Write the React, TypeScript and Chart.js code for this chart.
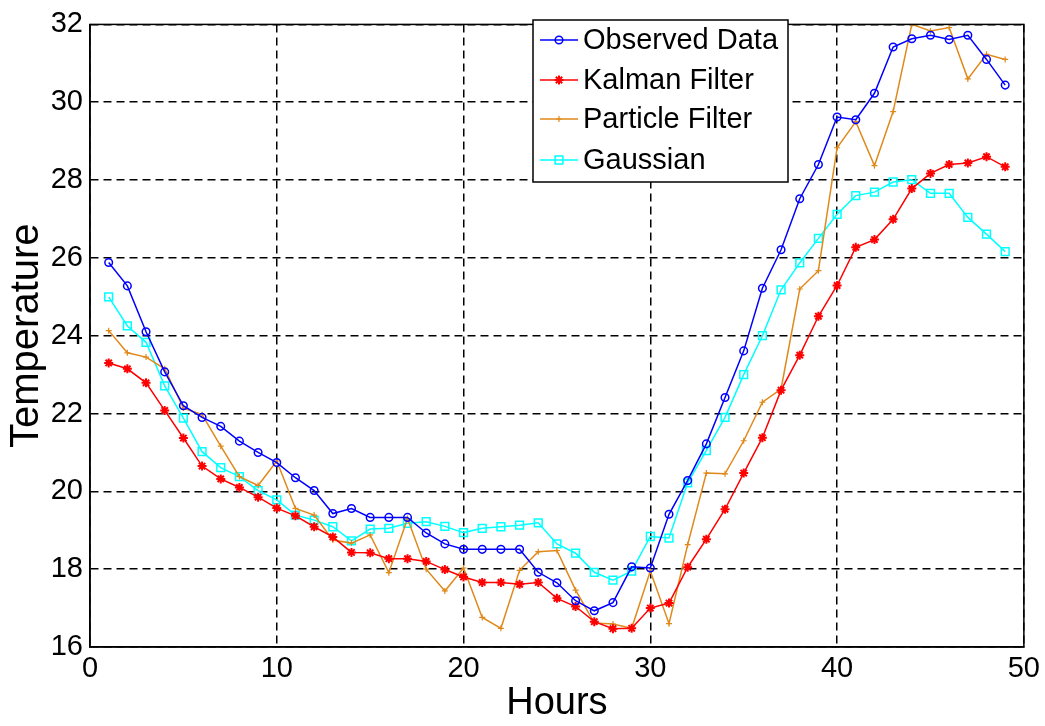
import React, { useEffect, useRef } from "react";
import { Chart, registerables } from "chart.js";
import { drawPoint } from "chart.js/helpers";

Chart.register(...registerables);

const hours = [1, 2, 3, 4, 5, 6, 7, 8, 9, 10, 11, 12, 13, 14, 15, 16, 17, 18, 19, 20, 21, 22, 23, 24, 25, 26, 27, 28, 29, 30, 31, 32, 33, 34, 35, 36, 37, 38, 39, 40, 41, 42, 43, 44, 45, 46, 47, 48, 49];

const observed = [25.88, 25.28, 24.1, 23.07, 22.2, 21.9, 21.67, 21.29, 21.0, 20.74, 20.35, 20.02, 19.43, 19.56, 19.33, 19.33, 19.33, 18.93, 18.65, 18.51, 18.51, 18.51, 18.51, 17.92, 17.65, 17.19, 16.93, 17.14, 18.06, 18.03, 19.41, 20.28, 21.22, 22.41, 23.61, 25.22, 26.21, 27.52, 28.4, 29.62, 29.55, 30.23, 31.42, 31.63, 31.72, 31.61, 31.72, 31.1, 30.44];

const kalman = [23.3, 23.15, 22.79, 22.08, 21.37, 20.65, 20.32, 20.1, 19.85, 19.57, 19.37, 19.09, 18.83, 18.43, 18.42, 18.27, 18.27, 18.2, 17.99, 17.8, 17.66, 17.66, 17.61, 17.66, 17.25, 17.04, 16.65, 16.47, 16.48, 17.0, 17.13, 18.05, 18.77, 19.54, 20.47, 21.38, 22.6, 23.5, 24.5, 25.29, 26.27, 26.47, 26.99, 27.78, 28.17, 28.4, 28.44, 28.6, 28.34];

const particle = [24.13, 23.56, 23.45, 23.15, 22.14, 21.97, 21.16, 20.38, 20.15, 20.78, 19.56, 19.39, 18.75, 18.67, 18.88, 17.91, 19.3, 18.0, 17.44, 18.03, 16.76, 16.48, 17.97, 18.45, 18.48, 17.46, 16.62, 16.59, 16.48, 17.95, 16.6, 18.63, 20.47, 20.45, 21.3, 22.29, 22.63, 25.2, 25.67, 28.83, 29.5, 28.37, 29.76, 32.0, 31.83, 31.92, 30.6, 31.23, 31.1];

const gaussian = [25.0, 24.25, 23.83, 22.71, 21.88, 21.02, 20.61, 20.38, 20.02, 19.78, 19.39, 19.26, 19.09, 18.73, 19.03, 19.05, 19.18, 19.22, 19.1, 18.94, 19.05, 19.09, 19.13, 19.19, 18.65, 18.41, 17.92, 17.72, 17.95, 18.84, 18.8, 20.22, 21.05, 21.9, 23.0, 24.0, 25.18, 25.87, 26.5, 27.12, 27.6, 27.69, 27.95, 28.01, 27.66, 27.66, 27.04, 26.61, 26.16];

const seriesLabels = ["Observed Data", "Kalman Filter", "Particle Filter", "Gaussian"];
const xTitle = "Hours";
const yTitle = "Temperature";

const FONT = "'Liberation Sans', Arial, sans-serif";

const framePlugin = {
  id: "frame",
  afterDatasetsDraw(chart: any) {
    const { ctx, chartArea } = chart;
    ctx.save();
    ctx.strokeStyle = "#000";
    ctx.lineWidth = 1.5;
    ctx.setLineDash([]);
    ctx.strokeRect(chartArea.left, chartArea.top, chartArea.right - chartArea.left, chartArea.bottom - chartArea.top);
    ctx.restore();
  },
};

const legendPlugin = {
  id: "boxLegend",
  afterDraw(chart: any) {
    const { ctx } = chart;
    const left = 533;
    const top = 20;
    const w = 255;
    const h = 162;
    ctx.save();
    ctx.fillStyle = "#fff";
    ctx.fillRect(left, top, w, h);
    ctx.strokeStyle = "#000";
    ctx.lineWidth = 1.5;
    ctx.setLineDash([]);
    ctx.strokeRect(left, top, w, h);
    const rows = [40, 80, 119, 160];
    chart.data.datasets.forEach((ds: any, i: number) => {
      const y = rows[i];
      ctx.strokeStyle = ds.borderColor;
      ctx.lineWidth = ds.borderWidth;
      ctx.beginPath();
      ctx.moveTo(540, y);
      ctx.lineTo(578, y);
      ctx.stroke();
      ctx.fillStyle = ds.pointBackgroundColor;
      ctx.strokeStyle = ds.borderColor;
      ctx.lineWidth = ds.pointBorderWidth;
      drawPoint(ctx, { pointStyle: ds.pointStyle, radius: ds.pointRadius, borderWidth: ds.pointBorderWidth, rotation: 0 }, 559, y);
      ctx.fillStyle = "#000";
      ctx.font = `29px ${FONT}`;
      ctx.textAlign = "left";
      ctx.textBaseline = "middle";
      ctx.fillText(ds.label, 583, y + 1);
    });
    ctx.restore();
  },
};

function pts(vals: number[]) {
  return hours.map((h, i) => ({ x: h, y: vals[i] }));
}

export default function App() {
  const ref = useRef<HTMLCanvasElement>(null);
  useEffect(() => {
    const canvas = ref.current!;
    const chart = new Chart(canvas, {
      type: "line",
      data: {
        datasets: [
          {
            label: seriesLabels[0],
            data: pts(observed),
            borderColor: "#0000ff",
            backgroundColor: "#0000ff",
            pointBackgroundColor: "rgba(0,0,0,0)",
            borderWidth: 1.5,
            pointStyle: "circle",
            pointRadius: 3.8,
            pointBorderWidth: 1.5,
          },
          {
            label: seriesLabels[1],
            data: pts(kalman),
            borderColor: "#ff0000",
            backgroundColor: "#ff0000",
            pointBackgroundColor: "#ff0000",
            borderWidth: 1.5,
            pointStyle: "star",
            pointRadius: 4.5,
            pointBorderWidth: 2,
          },
          {
            label: seriesLabels[2],
            data: pts(particle),
            borderColor: "#e0891a",
            backgroundColor: "#e0891a",
            pointBackgroundColor: "#e0891a",
            borderWidth: 1.5,
            pointStyle: "cross",
            pointRadius: 3,
            pointBorderWidth: 1.2,
          },
          {
            label: seriesLabels[3],
            data: pts(gaussian),
            borderColor: "#00ffff",
            backgroundColor: "#00ffff",
            pointBackgroundColor: "rgba(0,0,0,0)",
            borderWidth: 1.5,
            pointStyle: "rect",
            pointRadius: 5.5,
            pointBorderWidth: 1.5,
          },
        ],
      },
      options: {
        animation: false,
        responsive: false,
        devicePixelRatio: 1,
        layout: { padding: { top: 20, right: 19, left: 0, bottom: 0 } },
        plugins: {
          legend: { display: false },
          tooltip: { enabled: false },
        },
        elements: { line: { tension: 0 } },
        scales: {
          x: {
            type: "linear",
            min: 0,
            max: 50,
            ticks: {
              stepSize: 10,
              color: "#000",
              font: { family: FONT, size: 29 },
              padding: 5,
              maxRotation: 0,
            },
            grid: { color: "#000", lineWidth: 1.5, drawTicks: false },
            border: { display: true, color: "#000", width: 1.5, dash: [8, 5] },
            title: {
              display: true,
              text: xTitle,
              color: "#000",
              font: { family: FONT, size: 38 },
              padding: { top: 0, bottom: 0 },
            },
            afterFit: (s: any) => {
              s.height = 79;
            },
          },
          y: {
            type: "linear",
            min: 16,
            max: 32,
            ticks: {
              stepSize: 2,
              color: "#000",
              font: { family: FONT, size: 29 },
              padding: 7,
            },
            grid: { color: "#000", lineWidth: 1.5, drawTicks: false },
            border: { display: true, color: "#000", width: 1.5, dash: [8, 5] },
            title: {
              display: true,
              text: yTitle,
              color: "#000",
              font: { family: FONT, size: 40 },
              padding: { top: 3, bottom: 0 },
            },
            afterFit: (s: any) => {
              s.width = 90;
            },
          },
        },
      },
      plugins: [framePlugin, legendPlugin],
    });
    return () => chart.destroy();
  }, []);
  return (
    <div style={{ position: "fixed", left: 0, top: 0, width: 1045, height: 726, background: "#fff" }}>
      <canvas ref={ref} width={1045} height={726} />
    </div>
  );
}
